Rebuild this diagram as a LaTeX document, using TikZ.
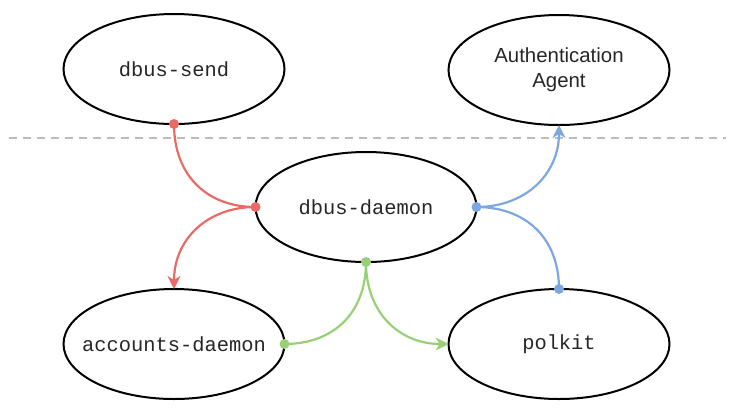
\documentclass[tikz,border=0pt]{standalone}
\usepackage{fontspec}
\setmainfont{Liberation Sans}
\newfontfamily\monofnt{Liberation Mono}
\usetikzlibrary{shapes.geometric,arrows.meta}
\definecolor{redc}{HTML}{EA6B66}
\definecolor{greenc}{HTML}{97D077}
\definecolor{bluec}{HTML}{7EA6E0}
\definecolor{dashc}{HTML}{BBBBBB}
\tikzset{
  proc/.style={ellipse, draw=black, line width=2pt, minimum width=221pt, minimum height=110pt, inner sep=0pt, outer sep=0pt, font=\monofnt\fontsize{20.4}{25}\selectfont, text=black!85},
  sansproc/.style={proc, font=\fontsize{20.4}{25}\selectfont, align=center},
  conn/.style={line width=2.2pt},
  tip/.style={-{Stealth[length=13pt,width=13pt,inset=4pt]}},
  dotc/.style={circle, fill=#1, inner sep=0pt, minimum size=10pt},
}
\begin{document}
\begin{tikzpicture}[x=1pt,y=-1pt]
\useasboundingbox (0,0) rectangle (734,408);
\draw[dashc, line width=2.2pt, dash pattern=on 8pt off 6pt] (9,138) -- (726,138);
\node[proc] (send) at (174,69) {\makebox[0pt]{dbus-send}};
\node[sansproc] (auth) at (559,70) {Authentication\\Agent};
\node[proc] (daemon) at (366,207) {\makebox[0pt]{dbus-daemon}};
\node[proc] (acc) at (174,344) {\makebox[0pt]{accounts-daemon}};
\node[proc] (pk) at (559,344) {\makebox[0pt]{polkit}};
% red
\draw[conn, redc] (send.south) .. controls +(0,52) and +(-48,0) .. (daemon.west);
\draw[conn, redc, tip] (daemon.west) .. controls +(-48,0) and +(0,-50) .. (acc.north);
% green
\draw[conn, greenc] (daemon.south) .. controls +(0,52) and +(48,0) .. (acc.east);
\draw[conn, greenc, tip] (daemon.south) .. controls +(0,52) and +(-48,0) .. (pk.west);
% blue
\draw[conn, bluec, tip] (daemon.east) .. controls +(48,0) and +(0,50) .. (auth.south);
\draw[conn, bluec] (pk.north) .. controls +(0,-52) and +(48,0) .. (daemon.east);
% dots
\node[dotc=redc] (d1) at (send.south) {};
\node[dotc=redc] (d2) at (daemon.west) {};
\node[dotc=greenc] (d3) at (daemon.south) {};
\node[dotc=greenc] (d4) at (acc.east) {};
\node[dotc=bluec] (d5) at (daemon.east) {};
\node[dotc=bluec] (d6) at (pk.north) {};
\end{tikzpicture}
\end{document}
